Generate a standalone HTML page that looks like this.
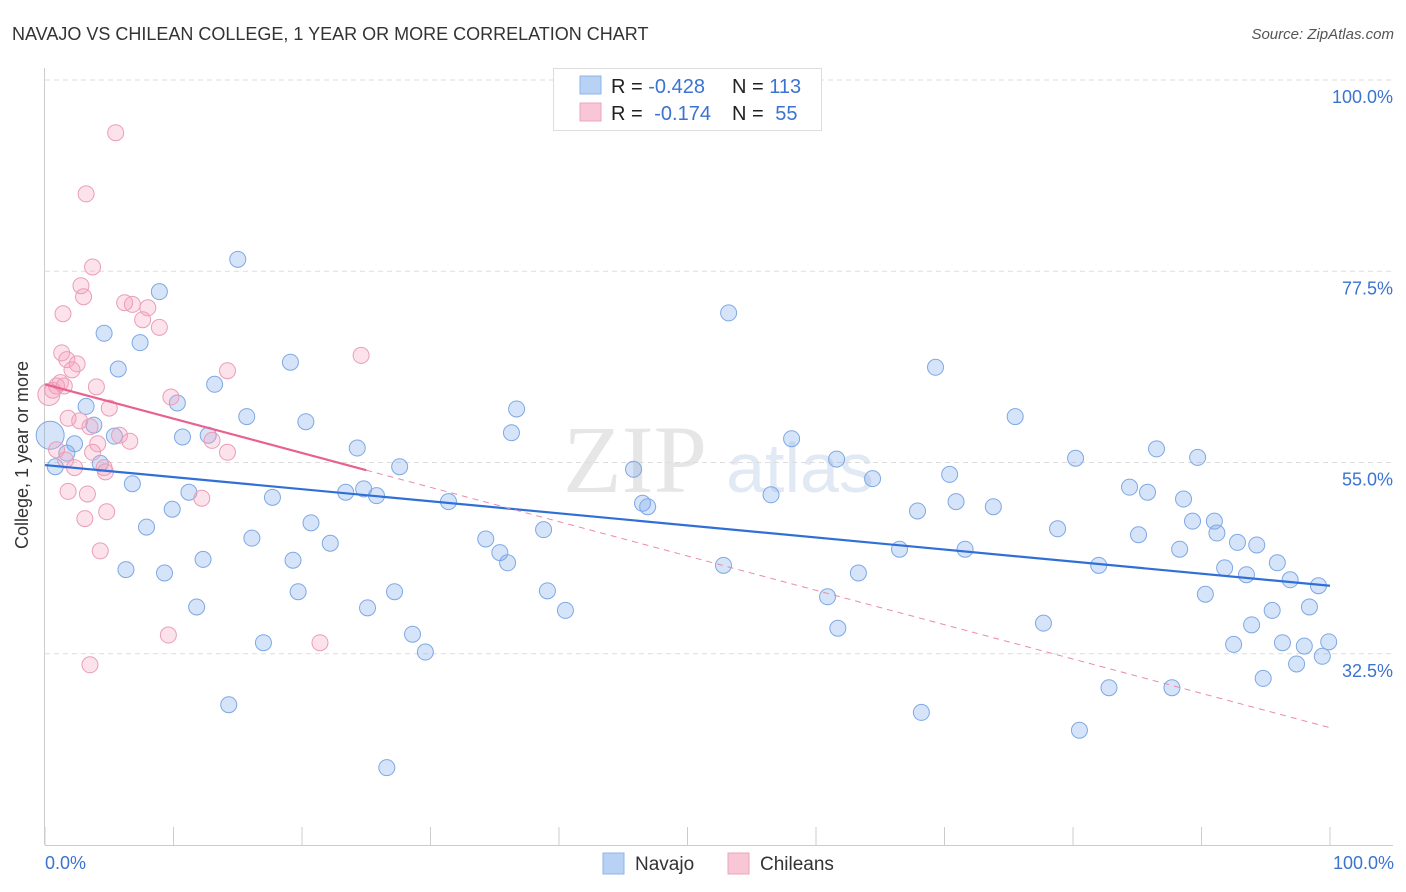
<!DOCTYPE html>
<html><head><meta charset="utf-8"><style>
body{margin:0;background:#fff;font-family:"Liberation Sans",sans-serif;}
#wrap{position:relative;width:1406px;height:892px;overflow:hidden;}
</style></head><body>
<div id="wrap">
<svg id="svg" width="1406" height="892" xmlns="http://www.w3.org/2000/svg">
<text x="12" y="40" font-size="18" fill="#333">NAVAJO VS CHILEAN COLLEGE, 1 YEAR OR MORE CORRELATION CHART</text>
<text x="1394" y="39" font-size="15" fill="#555" font-style="italic" text-anchor="end">Source: ZipAtlas.com</text>
<text x="635" y="492" font-size="96" fill="#e6e6e6" font-family="Liberation Serif,serif" text-anchor="middle">ZIP</text>
<text x="800" y="492" font-size="70" fill="#e1e9f5" text-anchor="middle">atlas</text>
<g id="grid"></g><g id="pts"></g><g id="lines"></g>
<text x="28" y="455" font-size="18" fill="#333" text-anchor="middle" transform="rotate(-90 28 455)">College, 1 year or more</text>
<text x="45" y="869" font-size="18" fill="#3b73d0">0.0%</text>
<text x="1394" y="869" font-size="18" fill="#3b73d0" text-anchor="end">100.0%</text>
<g>
<rect x="553.5" y="68.5" width="268" height="62" fill="#fff" stroke="#ddd"/>
<rect x="580" y="76" width="21" height="18" fill="#b7d2f5" stroke="#8fb4e6"/>
<rect x="580" y="103" width="21" height="18" fill="#f9c6d6" stroke="#eba5bd"/>
<text x="611" y="93" font-size="20" fill="#222">R = <tspan fill="#3b73d0">-0.428</tspan></text>
<text x="732" y="93" font-size="20" fill="#222">N = <tspan fill="#3b73d0">113</tspan></text>
<text x="611" y="120" font-size="20" fill="#222">R = <tspan fill="#3b73d0" dx="6">-0.174</tspan></text>
<text x="732" y="120" font-size="20" fill="#222">N = <tspan fill="#3b73d0" dx="6">55</tspan></text>
</g>
<g>
<rect x="603" y="853" width="21" height="21" fill="#b7d2f5" stroke="#8fb4e6"/>
<text x="635" y="870" font-size="19" fill="#333">Navajo</text>
<rect x="728" y="853" width="21" height="21" fill="#f9c6d6" stroke="#eba5bd"/>
<text x="760" y="870" font-size="19" fill="#333">Chileans</text>
</g>
</svg>
</div>
<script>
const yTicks=[100,77.5,55,32.5];
const yTickLabels=["100.0%","77.5%","55.0%","32.5%"];
const xTicks=[0,10,20,30,40,50,60,70,80,90,100];
const navX=[15.0,8.9,4.6,7.4,5.7,19.1,13.2,10.3,3.2,3.8,15.7,20.3,10.7,12.7,5.4,2.3,1.7,4.3,0.8,6.8,11.2,17.7,9.9,7.9,16.1,20.7,22.2,12.3,19.3,6.3,9.3,11.8,19.7,25.1,27.2,17.0,28.6,29.6,14.3,26.6,24.3,27.6,23.4,24.8,25.8,31.4,36.7,36.3,34.3,35.4,36.0,38.8,39.1,40.5,45.8,46.5,46.9,53.2,52.8,56.5,58.1,61.6,64.4,60.9,61.7,63.3,66.5,67.9,68.2,69.3,70.4,70.9,71.6,73.8,75.5,77.7,78.8,80.2,80.5,82.0,82.8,84.4,85.1,85.8,86.5,87.7,88.3,88.6,89.3,89.7,90.3,91.0,91.2,91.8,92.5,92.8,93.5,93.9,94.3,94.8,95.5,95.9,96.3,96.9,97.4,98.0,98.4,99.1,99.4,99.9,0.4];
const navY=[78.9,75.1,70.2,69.1,66.0,66.8,64.2,62.0,61.6,59.4,60.4,59.8,58.0,58.2,58.1,57.2,56.1,54.9,54.5,52.5,51.5,50.9,49.5,47.4,46.1,47.9,45.5,43.6,43.5,42.4,42.0,38.0,39.8,37.9,39.8,33.8,34.8,32.7,26.5,19.1,56.7,54.5,51.5,51.9,51.1,50.4,61.3,58.5,46.0,44.4,43.2,47.1,39.9,37.6,54.2,50.2,49.8,72.6,42.9,51.2,57.8,55.4,53.1,39.2,35.5,42.0,44.8,49.3,25.6,66.2,53.6,50.4,44.8,49.8,60.4,36.1,47.2,55.5,23.5,42.9,28.5,52.1,46.5,51.5,56.6,28.5,44.8,50.7,48.1,55.6,39.5,48.1,46.7,42.6,33.6,45.6,41.8,35.9,45.3,29.6,37.6,43.2,33.8,41.2,31.3,33.4,38.0,40.5,32.2,33.9,58.2];
const chiX=[5.5,3.2,3.7,2.8,3.0,6.2,6.8,8.0,1.4,7.6,8.9,24.6,1.3,1.7,2.5,2.1,14.2,1.2,0.9,0.6,1.5,4.0,9.8,5.0,1.8,2.7,3.5,5.8,6.6,4.1,13.0,14.2,0.9,3.7,1.6,2.3,4.6,4.7,1.8,3.3,12.2,4.8,3.1,4.3,9.6,21.4,3.5,0.3];
const chiY=[93.8,86.6,78.0,75.8,74.5,73.8,73.6,73.2,72.5,71.8,70.9,67.6,67.9,67.1,66.6,65.9,65.8,64.4,64.0,63.5,64.0,63.9,62.7,61.4,60.2,59.9,59.2,58.2,57.5,57.2,57.6,56.2,56.5,56.2,55.3,54.4,54.4,53.9,51.6,51.3,50.8,49.2,48.4,44.6,34.7,33.8,31.2,63.0];
const navTrend=[54.7,40.5];
const chiTrend=[64.2,23.8];
const chiSolidEnd=25;
const NS="http://www.w3.org/2000/svg";
const X=v=>45+v*12.85, Y=v=>80+(100-v)*8.5;
function mk(t,a,p){const e=document.createElementNS(NS,t);for(const k in a)e.setAttribute(k,a[k]);p.appendChild(e);return e;}
const grid=document.getElementById('grid');
yTicks.forEach((t,i)=>{
 const l=mk('line',{x1:45,x2:1393,y1:Y(t),y2:Y(t),stroke:'#ddd','stroke-dasharray':'5,4'},grid);
 
 
 const tx=mk('text',{x:1393,y:Y(t)+23,'font-size':18,fill:'#3b73d0','text-anchor':'end'},grid);
 tx.textContent=yTickLabels[i];
 
 
});
const ax=mk('line',{x1:45,x2:1393,y1:845.5,y2:845.5,stroke:'#ccc'},grid);


const ay=mk('line',{x1:44.5,x2:44.5,y1:68,y2:845,stroke:'#ccc'},grid);


xTicks.forEach(t=>{const l=mk('line',{x1:X(t),x2:X(t),y1:827,y2:845,stroke:'#ccc'},grid);
 
 });
const pts=document.getElementById('pts');
navX.forEach((x,i)=>{const c=mk('circle',{cx:X(x),cy:Y(navY[i]),r:i==navX.length-1?14:8,fill:'rgba(120,165,235,0.3)',stroke:'#7ea8e4','stroke-width':1},pts);
 
 });
chiX.forEach((x,i)=>{const c=mk('circle',{cx:X(x),cy:Y(chiY[i]),r:i==chiX.length-1?11:8,fill:'rgba(245,160,190,0.3)',stroke:'#eb9db8','stroke-width':1},pts);
 
 });
const lg=document.getElementById('lines');
const nl=mk('line',{x1:X(0),y1:Y(navTrend[0]),x2:X(100),y2:Y(navTrend[1]),stroke:'#2f6fd6','stroke-width':2.2},lg);


const ce=chiTrend[0]+(chiTrend[1]-chiTrend[0])*chiSolidEnd/100;
const cl=mk('line',{x1:X(0),y1:Y(chiTrend[0]),x2:X(chiSolidEnd),y2:Y(ce),stroke:'#e8628f','stroke-width':2.2},lg);


const cd=mk('line',{x1:X(chiSolidEnd),y1:Y(ce),x2:X(100),y2:Y(chiTrend[1]),stroke:'#eb8aab','stroke-width':1,'stroke-dasharray':'6,5'},lg);


</script>
</body></html>
